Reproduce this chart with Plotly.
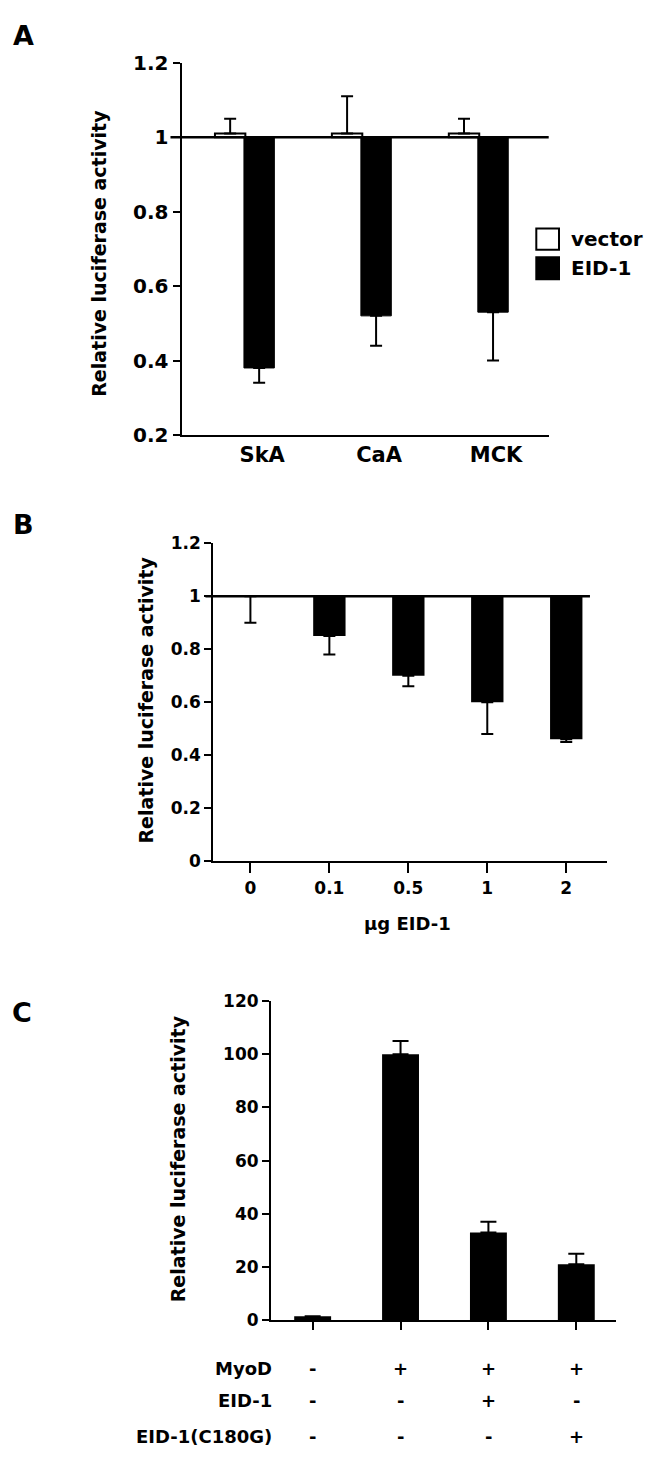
import plotly.graph_objects as go

W, H = 647, 1462
FONT = "DejaVu Sans"

# ---------------- data ----------------
# Panel A
a_categories = ["SkA", "CaA", "MCK"]
a_vector = [1.01, 1.01, 1.01]
a_vector_err_top = [1.05, 1.11, 1.05]
a_eid = [0.38, 0.52, 0.53]
a_eid_err_bottom = [0.34, 0.44, 0.40]
a_baseline = 1.0

# Panel B
b_doses = ["0", "0.1", "0.5", "1", "2"]
b_values = [1.0, 0.85, 0.70, 0.60, 0.46]
b_err_bottom = [0.90, 0.78, 0.66, 0.48, 0.45]
b_baseline = 1.0

# Panel C
c_values = [1.5, 100, 33, 21]
c_err_top = [1.5, 105, 37, 25]
c_row_labels = ["MyoD", "EID-1", "EID-1(C180G)"]
c_myod = ["-", "+", "+", "+"]
c_eid1 = ["-", "-", "+", "-"]
c_c180g = ["-", "-", "-", "+"]


def px(x):
    return x / W


def py(y):
    return 1 - y / H


def bfont(size):
    return dict(family=FONT, size=size, color="black", weight="bold")


fig = go.Figure()

# ---------------- Panel A ----------------
a_x = list(range(len(a_categories)))
off = 0.124
bw = 0.26
fig.add_trace(go.Bar(
    x=[i - off for i in a_x], y=[v - a_baseline for v in a_vector], base=a_baseline,
    width=bw, marker=dict(color="white", line=dict(color="black", width=2)),
    name="vector", xaxis="x", yaxis="y"))
fig.add_trace(go.Bar(
    x=[i + off for i in a_x], y=[v - a_baseline for v in a_eid], base=a_baseline,
    width=bw, marker=dict(color="black", line=dict(color="black", width=1)),
    name="EID-1", xaxis="x", yaxis="y"))
fig.add_trace(go.Scatter(
    x=[i - off for i in a_x], y=a_vector, mode="markers",
    marker=dict(color="rgba(0,0,0,0)", size=1),
    error_y=dict(type="data", symmetric=False,
                 array=[t - v for t, v in zip(a_vector_err_top, a_vector)],
                 arrayminus=[0] * len(a_vector), color="black", thickness=2, width=6),
    xaxis="x", yaxis="y", hoverinfo="skip"))
fig.add_trace(go.Scatter(
    x=[i + off for i in a_x], y=a_eid, mode="markers",
    marker=dict(color="rgba(0,0,0,0)", size=1),
    error_y=dict(type="data", symmetric=False,
                 array=[0] * len(a_eid),
                 arrayminus=[v - b for v, b in zip(a_eid, a_eid_err_bottom)],
                 color="black", thickness=2, width=6),
    xaxis="x", yaxis="y", hoverinfo="skip"))

# ---------------- Panel B ----------------
b_x = list(range(len(b_doses)))
fig.add_trace(go.Bar(
    x=b_x, y=[v - b_baseline for v in b_values], base=b_baseline, width=0.41,
    marker=dict(color="black", line=dict(width=0)), xaxis="x2", yaxis="y2"))
fig.add_trace(go.Scatter(
    x=b_x, y=b_values, mode="markers", marker=dict(color="rgba(0,0,0,0)", size=1),
    error_y=dict(type="data", symmetric=False, array=[0] * len(b_values),
                 arrayminus=[v - e for v, e in zip(b_values, b_err_bottom)],
                 color="black", thickness=2, width=6),
    xaxis="x2", yaxis="y2", hoverinfo="skip"))

# ---------------- Panel C ----------------
c_x = list(range(len(c_values)))
fig.add_trace(go.Bar(
    x=c_x, y=c_values, width=0.42, marker=dict(color="black", line=dict(width=0)),
    xaxis="x3", yaxis="y3"))
fig.add_trace(go.Scatter(
    x=c_x, y=c_values, mode="markers", marker=dict(color="rgba(0,0,0,0)", size=1),
    error_y=dict(type="data", symmetric=False,
                 array=[t - v for t, v in zip(c_err_top, c_values)],
                 arrayminus=[0] * len(c_values), color="black", thickness=2, width=8),
    xaxis="x3", yaxis="y3", hoverinfo="skip"))

axis_common = dict(showline=True, linecolor="black", linewidth=2, showgrid=False,
                   zeroline=False, mirror=False)

fig.update_layout(
    width=W, height=H, margin=dict(l=0, r=0, t=0, b=0),
    paper_bgcolor="white", plot_bgcolor="white", showlegend=False,
    barmode="overlay",
    # A
    xaxis=dict(domain=[px(181.5), px(548.7)], range=[-0.54, 2.6], anchor="y",
               tickvals=[i + 0.15 for i in a_x], ticktext=a_categories, ticks="",
               tickfont=bfont(21), **axis_common),
    yaxis=dict(domain=[py(430), py(51.7)], range=[0.2, 1.2], anchor="x",
               tick0=0.2, dtick=0.2, ticks="outside", ticklen=7, tickwidth=2,
               tickcolor="black", tickfont=bfont(20), **axis_common),
    # B
    xaxis2=dict(domain=[px(213.3), px(607.3)], range=[-0.47, 4.52], anchor="y2",
                tickvals=b_x, ticktext=b_doses, ticks="outside", ticklen=10,
                tickwidth=2, tickcolor="black", tickfont=bfont(17), **axis_common),
    yaxis2=dict(domain=[py(863.3), py(540)], range=[0, 1.2], anchor="x2",
                tick0=0, dtick=0.2, ticks="outside", ticklen=7, tickwidth=2,
                tickcolor="black", tickfont=bfont(17), **axis_common),
    # C
    xaxis3=dict(domain=[px(271), px(615.5)], range=[-0.474, 3.446], anchor="y3",
                tickvals=c_x, showticklabels=False, ticks="outside", ticklen=8,
                tickwidth=2, tickcolor="black", **axis_common),
    yaxis3=dict(domain=[py(1330), py(1005.6)], range=[0, 120], anchor="x3",
                tick0=0, dtick=20, ticks="outside", ticklen=7, tickwidth=2,
                tickcolor="black", tickfont=bfont(17), **axis_common),
)

shapes = [
    # baseline at 1 in A and B
    dict(type="line", xref="x domain", yref="y", x0=-0.03, x1=1, y0=a_baseline, y1=a_baseline,
         line=dict(color="black", width=2.5)),
    dict(type="line", xref="x2 domain", yref="y2", x0=-0.02, x1=0.956, y0=b_baseline, y1=b_baseline,
         line=dict(color="black", width=2.5)),
    # legend swatches for panel A
    dict(type="rect", xref="paper", yref="paper", x0=px(536.3), x1=px(559),
         y0=py(241.7), y1=py(220), fillcolor="white", line=dict(color="black", width=2)),
    dict(type="rect", xref="paper", yref="paper", x0=px(536.3), x1=px(559),
         y0=py(271.7), y1=py(249.3), fillcolor="black", line=dict(color="black", width=2)),
]

annotations = []


def ann(text, x, y, size, xanchor="center", textangle=0, xref="paper", yanchor="middle"):
    annotations.append(dict(text=text, x=x, y=y, xref=xref, yref="paper",
                            xanchor=xanchor, yanchor=yanchor, showarrow=False,
                            textangle=textangle, font=bfont(size)))


# panel letters
ann("A", px(23), py(24), 27)
ann("B", px(23), py(521.5), 27)
ann("C", px(22), py(1017.5), 27)

# y-axis titles
ann("Relative luciferase activity", px(99), py(245.8), 19, textangle=-90)
ann("Relative luciferase activity", px(146), py(700), 19, textangle=-90)
ann("Relative luciferase activity", px(177.4), py(1166), 19, textangle=-90)

# B x title
ann("\u03bcg EID-1", px(408), py(926.5), 18)

# legend text
ann("vector", px(569.3), py(231), 20, xanchor="left")
ann("EID-1", px(569.3), py(260.5), 20, xanchor="left")

# panel C table
row_y = [1379, 1411.7, 1448.2]
for label, yy, signs in zip(c_row_labels, row_y, [c_myod, c_eid1, c_c180g]):
    ann(label, px(274), py(yy), 18, xanchor="right")
    for i, s in zip(c_x, signs):
        ann(s, i, py(yy), 18, xref="x3")

fig.update_layout(shapes=shapes, annotations=annotations)
fig.write_html("out.html")
